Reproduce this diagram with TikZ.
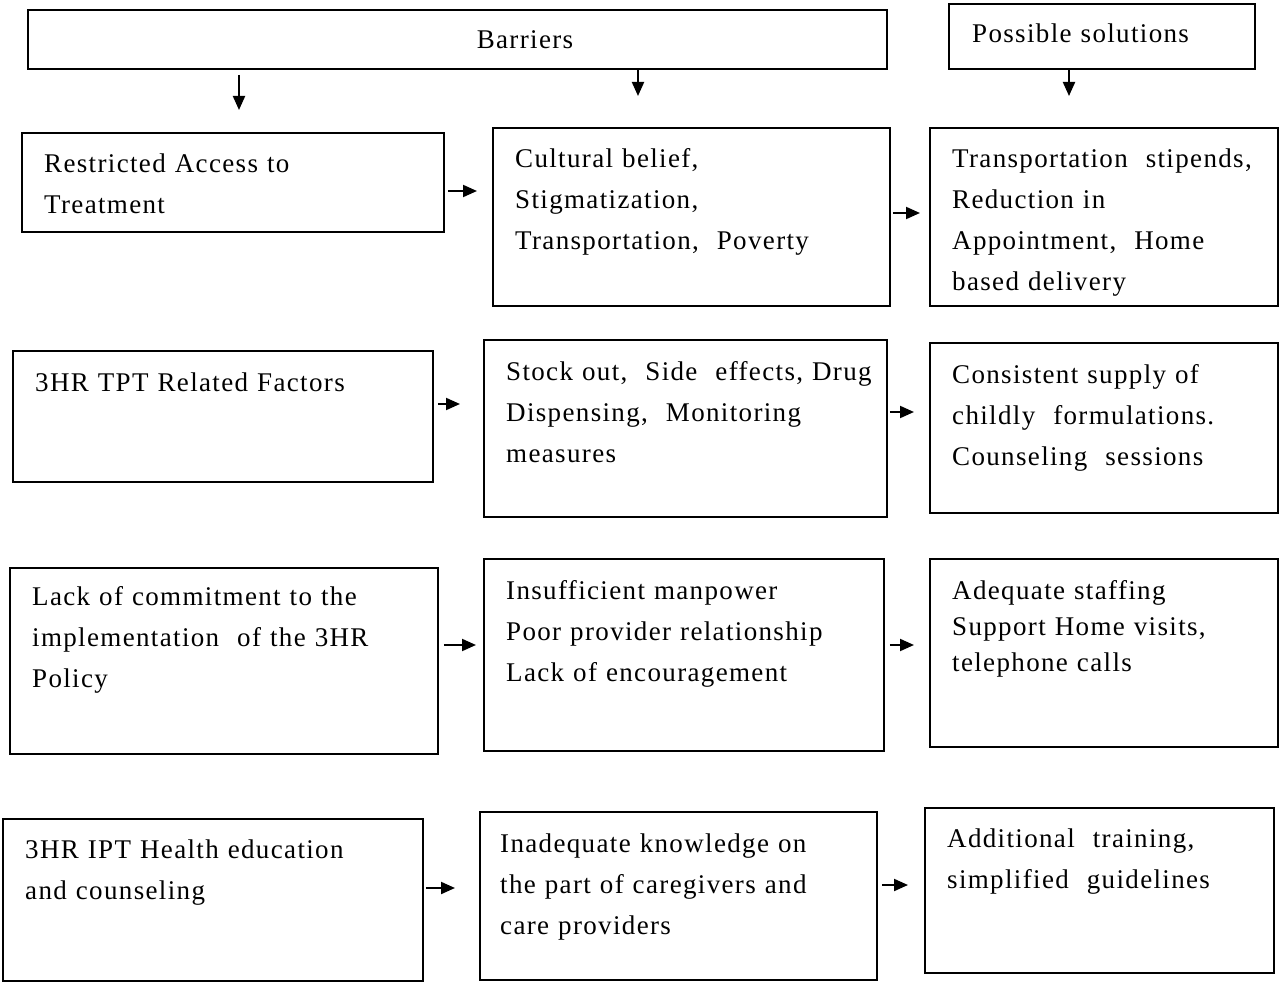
\documentclass[tikz,border=0pt]{standalone}
\usepackage{fontspec}
\setmainfont{Liberation Serif}[LetterSpace=5]
\usetikzlibrary{arrows.meta,calc}
\begin{document}
\begin{tikzpicture}[x=1pt,y=-1pt,
  box/.style={draw=black,line width=1.8pt,anchor=north west,inner sep=0pt},
  txt/.style={anchor=base west,inner sep=0pt,align=left,text width=420pt,
    font=\fontsize{27}{41}\selectfont},
  arr/.style={line width=2pt,-{Triangle[length=14pt,width=12pt]}}]
\useasboundingbox (0,0) rectangle (1280,984);
\fill[white] (0,0) rectangle (1280,984);
% header boxes
\node[box,minimum width=859pt,minimum height=59pt] (bar) at (27,9) {};
\node[txt,anchor=base,text width=] (tbar) at ($(bar.north west)+(498,40)$) {Barriers};
\node[box,minimum width=306pt,minimum height=65pt] (ps) at (948,3) {};
\node[txt] (tps) at ($(ps.north west)+(24,40)$) {Possible solutions};
% row 1
\node[box,minimum width=422pt,minimum height=99pt] (A1) at (21,132) {};
\node[box,minimum width=397pt,minimum height=178pt] (B1) at (492,127) {};
\node[box,minimum width=348pt,minimum height=178pt] (C1) at (929,127) {};
% row 2
\node[box,minimum width=420pt,minimum height=131pt] (A2) at (12,350) {};
\node[box,minimum width=403pt,minimum height=177pt] (B2) at (483,339) {};
\node[box,minimum width=348pt,minimum height=170pt] (C2) at (929,342) {};
% row 3
\node[box,minimum width=428pt,minimum height=186pt] (A3) at (9,567) {};
\node[box,minimum width=400pt,minimum height=192pt] (B3) at (483,558) {};
\node[box,minimum width=348pt,minimum height=188pt] (C3) at (929,558) {};
% row 4
\node[box,minimum width=420pt,minimum height=162pt] (A4) at (2,818) {};
\node[box,minimum width=397pt,minimum height=168pt] (B4) at (479,811) {};
\node[box,minimum width=349pt,minimum height=165pt] (C4) at (924,807) {};
% texts
\node[txt] (tA1) at ($(A1.north west)+(23,41)$) {Restricted Access to\\Treatment};
\node[txt] (tB1) at ($(B1.north west)+(23,41)$) {Cultural belief,\\Stigmatization,\\Transportation,\ \ Poverty};
\node[txt] (tC1) at ($(C1.north west)+(23,41)$) {Transportation\ \ stipends,\\Reduction in\\Appointment,\ \ Home\\based delivery};
\node[txt] (tA2) at ($(A2.north west)+(23,41)$) {3HR TPT Related Factors};
\node[txt] (tB2) at ($(B2.north west)+(23,41)$) {Stock out,\ \ Side\ \ effects, Drug\\Dispensing,\ \ Monitoring\\measures};
\node[txt] (tC2) at ($(C2.north west)+(23,41)$) {Consistent supply of\\childly\ \ formulations.\\Counseling\ \ sessions};
\node[txt] (tA3) at ($(A3.north west)+(23,38)$) {Lack of commitment to the\\implementation\ \ of the 3HR\\Policy};
\node[txt] (tB3) at ($(B3.north west)+(23,41)$) {Insufficient manpower\\Poor provider relationship\\Lack of encouragement};
\node[txt,font=\fontsize{27}{36}\selectfont] (tC3) at ($(C3.north west)+(23,41)$) {Adequate staffing\\Support Home visits,\\telephone calls};
\node[txt] (tA4) at ($(A4.north west)+(23,40)$) {3HR IPT Health education\\and counseling};
\node[txt] (tB4) at ($(B4.north west)+(21,41)$) {Inadequate knowledge on\\the part of caregivers and\\care providers};
\node[txt] (tC4) at ($(C4.north west)+(23,40)$) {Additional\ \ training,\\simplified\ \ guidelines};
% down arrows
\draw[arr] ($(bar.south west)+(212,5)$) -- ($(A1.north west)+(218,-22)$);
\draw[arr] ($(bar.south west)+(611,0)$) -- ($(B1.north west)+(146,-31)$);
\draw[arr] ($(ps.south west)+(121,0)$) -- ($(C1.north west)+(140,-31)$);
% horizontal arrows
\draw[arr] ($(A1.north east)+(3,59)$) -- ($(B1.north west)+(-15,64)$);
\draw[arr] ($(B1.north east)+(2,86)$) -- ($(C1.north west)+(-9,86)$);
\draw[arr] ($(A2.north east)+(4,54)$) -- ($(B2.north west)+(-23,65)$);
\draw[arr] ($(B2.north east)+(2,73)$) -- ($(C2.north west)+(-15,70)$);
\draw[arr] ($(A3.north east)+(5,78)$) -- ($(B3.north west)+(-7,87)$);
\draw[arr] ($(B3.north east)+(5,87)$) -- ($(C3.north west)+(-15,87)$);
\draw[arr] ($(A4.north east)+(2,70)$) -- ($(B4.north west)+(-24,77)$);
\draw[arr] ($(B4.north east)+(4,74)$) -- ($(C4.north west)+(-16,78)$);
\end{tikzpicture}
\end{document}
